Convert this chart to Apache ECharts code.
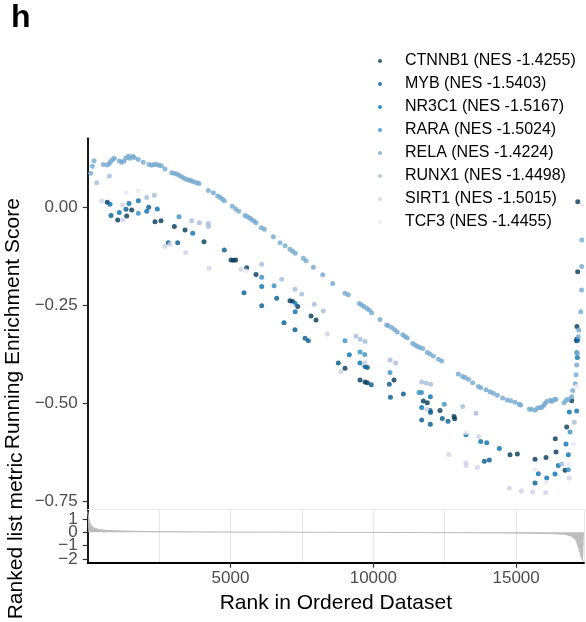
<!DOCTYPE html>
<html><head><meta charset="utf-8">
<script src="https://cdn.jsdelivr.net/npm/echarts@6/dist/echarts.min.js"></script>
<style>html,body{margin:0;padding:0;background:#fff}#c{width:586px;height:622px}</style>
</head><body><div id="c"></div>
<script>
// ---------- data ----------
const geneSets = ['CTNNB1','MYB','NR3C1','RARA','RELA','RUNX1','SIRT1','TCF3'];
const nesValues = [-1.4255,-1.5403,-1.5167,-1.5024,-1.4224,-1.4498,-1.5015,-1.4455];
const setColors = ['#023858','#045a8d','#0570b0','#3690c0','#74a9cf','#a6bddb','#d0d1e6','#ece7f2'];
const nGenes = 17377;

// [rank, running enrichment score] at hit positions
const CTNNB1 = [[686,0.013],[1050,-0.032],[1365,-0.022],[1540,-0.007],[2357,-0.037],[2566,-0.034],[3032,-0.049],[3407,-0.058],[4072,-0.088],[5018,-0.134],[5100,-0.135],[5182,-0.134],[5566,-0.154],[5893,-0.171],[7083,-0.238],[7177,-0.240],[7353,-0.253],[7820,-0.277],[7995,-0.287],[9009,-0.410],[9534,-0.440],[9709,-0.445],[9790,-0.447],[10725,-0.440],[11750,-0.494],[11890,-0.498],[12335,-0.518],[12826,-0.533],[12849,-0.539],[14786,-0.631],[15043,-0.629],[15662,-0.642],[16047,-0.638],[16372,-0.590],[16397,-0.624],[16712,-0.670],[16771,-0.560],[16946,-0.493],[17120,-0.340],[17125,-0.336],[17130,-0.304],[17155,-0.164],[17160,0.014]];
const MYB = [[816,-0.021],[1341,-0.005],[2136,0.000],[2822,-0.090],[3151,-0.090],[4784,-0.109],[5473,-0.218],[6092,-0.251],[6617,-0.232],[6873,-0.294],[7258,-0.312],[7610,-0.334],[7725,-0.340],[8775,-0.397],[9709,-0.406],[9790,-0.408],[9930,-0.452],[10560,-0.451],[10600,-0.484],[11052,-0.476],[11694,-0.542],[11990,-0.518],[12005,-0.523],[11997,-0.553],[12416,-0.538],[12616,-0.545],[13888,-0.647],[14062,-0.644],[15662,-0.703]];
const NR3C1 = [[781,0.008],[1106,-0.013],[1446,0.010],[1772,0.017],[2066,-0.010],[2437,-0.004],[3676,-0.066],[6092,-0.202],[7259,-0.245],[7265,-0.266],[9160,-0.376],[9534,-0.397],[11694,-0.510],[11997,-0.483],[13245,-0.580],[13760,-0.597],[13970,-0.600],[14412,-0.615],[15778,-0.679],[16071,-0.690],[16362,-0.680],[16478,-0.658],[16747,-0.603],[16828,-0.631],[16864,-0.522],[17120,-0.519],[17144,-0.383],[17155,-0.338]];
const RARA = [[1772,-0.015],[3197,-0.024],[6092,-0.178],[6523,-0.200],[9009,-0.340],[9534,-0.369],[9699,-0.375],[10585,-0.421],[11600,-0.472],[11690,-0.472],[12486,-0.502],[16828,-0.669],[16887,-0.573],[17120,-0.370]];
const RELA = [[104,0.087],[162,0.105],[221,0.119],[547,0.109],[687,0.108],[757,0.112],[804,0.117],[874,0.122],[932,0.125],[1107,0.118],[1189,0.115],[1270,0.118],[1340,0.126],[1422,0.130],[1480,0.125],[1574,0.130],[1632,0.127],[1772,0.122],[1947,0.115],[2146,0.109],[2239,0.107],[2321,0.109],[2414,0.109],[2496,0.107],[2578,0.106],[2706,0.098],[2940,0.088],[3021,0.087],[3115,0.085],[3197,0.082],[3290,0.078],[3372,0.074],[3465,0.071],[3547,0.070],[3629,0.068],[3699,0.065],[3816,0.063],[3897,0.061],[4224,0.043],[4399,0.037],[4551,0.029],[4633,0.026],[4714,0.021],[4784,0.017],[5064,0.003],[5181,-0.004],[5286,-0.010],[5508,-0.021],[5590,-0.024],[5671,-0.027],[5741,-0.031],[5823,-0.035],[5893,-0.039],[6080,-0.052],[6185,-0.056],[6500,-0.075],[6734,-0.090],[6909,-0.098],[7084,-0.107],[7177,-0.112],[7270,-0.117],[7550,-0.130],[7644,-0.136],[7900,-0.153],[8228,-0.172],[8578,-0.194],[9009,-0.219],[9126,-0.223],[9511,-0.245],[9592,-0.249],[9674,-0.253],[9767,-0.257],[9860,-0.262],[9942,-0.269],[10234,-0.286],[10468,-0.300],[10525,-0.302],[10643,-0.306],[10750,-0.312],[10840,-0.318],[11030,-0.325],[11110,-0.329],[11190,-0.333],[11380,-0.347],[11460,-0.351],[11540,-0.354],[11630,-0.357],[11730,-0.360],[11890,-0.370],[11980,-0.374],[12100,-0.379],[12280,-0.387],[12395,-0.392],[12977,-0.425],[13130,-0.431],[13210,-0.434],[13330,-0.438],[13480,-0.447],[13680,-0.457],[13760,-0.460],[13946,-0.465],[14090,-0.470],[14200,-0.474],[14342,-0.479],[14530,-0.486],[14690,-0.491],[14810,-0.493],[14960,-0.497],[15110,-0.502],[15160,-0.504],[15463,-0.515],[15540,-0.515],[15660,-0.517],[15743,-0.512],[15820,-0.510],[15900,-0.510],[15960,-0.505],[16010,-0.500],[16071,-0.495],[16190,-0.492],[16250,-0.495],[16340,-0.490],[16397,-0.489],[16677,-0.498],[16750,-0.492],[16828,-0.489],[16946,-0.483],[16982,-0.467],[17073,-0.450],[17097,-0.427],[17121,-0.402],[17144,-0.372],[17178,-0.330],[17191,-0.313],[17262,-0.266],[17290,-0.211],[17294,-0.151],[17298,-0.083]];
const RUNX1 = [[315,0.063],[757,0.080],[2066,0.025],[2332,0.031],[3641,-0.034],[3908,-0.039],[4223,-0.041],[4230,-0.049],[6092,-0.145],[6792,-0.183],[7259,-0.209],[7493,-0.221],[7935,-0.247],[8250,-0.264],[9394,-0.328],[9545,-0.336],[9709,-0.342],[10585,-0.389],[10784,-0.397],[11693,-0.445],[11850,-0.448],[12010,-0.451],[13130,-0.508],[13596,-0.525],[16596,-0.654],[17038,-0.548]];
const SIRT1 = [[490,0.016],[1225,0.006],[1230,-0.032],[2707,-0.099],[2882,-0.094],[3431,-0.115],[4247,-0.155],[5368,-0.158],[8390,-0.323],[8858,-0.419],[9709,-0.396],[11869,-0.515],[12640,-0.630],[13240,-0.652],[13250,-0.658],[13643,-0.663],[13690,-0.584],[14762,-0.716],[15183,-0.723],[15580,-0.725],[16036,-0.727],[16852,-0.690]];
const TCF3 = [[1341,0.037],[1772,0.042],[5543,-0.162],[7153,-0.251],[13245,-0.574],[15662,-0.668],[16047,-0.701],[16828,-0.655],[17003,-0.604],[17120,-0.457],[17296,0.006]];
const setPoints = [CTNNB1, MYB, NR3C1, RARA, RELA, RUNX1, SIRT1, TCF3];

// ranked list metric
const metricRank  = [1,20,50,100,150,250,400,700,1000,1500,2500,4000,6000,8500,11000,13000,14500,15500,16200,16700,16950,17100,17213,17260,17300,17340,17377];
const metricValue = [1.55,1.3,0.9,0.6,0.45,0.3,0.2,0.14,0.11,0.08,0.05,0.03,0.015,0,-0.015,-0.03,-0.05,-0.07,-0.1,-0.15,-0.3,-0.62,-1.3,-1.7,-2.0,-2.15,-2.22];

// tick labels
const scoreTicks = [-0.75,-0.5,-0.25,0];
const metricTicks = [-2,-1,0,1];
const metricLabelsA = [-1,1];   // drawn by one axis
const metricLabelsB = [-2,0];   // drawn by a second, label-only axis (avoids auto-hiding)
const rankTicks = [5000,10000,15000];

// ---------- chart ----------
const FONT = "'Liberation Sans', Arial, Helvetica, sans-serif";
const minus = s => String(s).replace('-', '\u2212');
const legendNames = geneSets.map((g,i) => g + ' (NES ' + nesValues[i].toFixed(4) + ')');

const scatterSeries = setPoints.map((pts,i) => ({
  name: legendNames[i], type: 'scatter', xAxisIndex: 0, yAxisIndex: 0,
  data: pts, symbol: 'circle', symbolSize: 5,
  itemStyle: {color: setColors[i]}, silent: true
}));

const metricData = metricRank.map((r,i) => [r, metricValue[i]]);

const axisLine = {show: true, onZero: false, lineStyle: {color: '#000', width: 1.8}};
const metricLabel = vals => ({customValues: vals, fontSize: 17, color: '#4d4d4d', margin: 10, fontFamily: FONT,
  showMinLabel: true, showMaxLabel: true, hideOverlap: false, formatter: v => minus(Math.round(v))});

const chart = echarts.init(document.getElementById('c'), null, {renderer: 'canvas'});
chart.setOption({
  animation: false,
  backgroundColor: '#fff',
  textStyle: {fontFamily: FONT},
  title: {text: 'h', left: 11, top: 2, padding: 0,
    textStyle: {fontSize: 32, fontWeight: 'bold', color: '#000', fontFamily: FONT}},
  legend: {
    data: legendNames, orient: 'vertical', left: 378, top: 53, padding: 0,
    itemWidth: 40, itemHeight: 4, itemGap: 7, icon: 'circle', selectedMode: false,
    textStyle: {fontSize: 16, color: '#000', lineHeight: 16, fontFamily: FONT}
  },
  grid: [
    {left: 87.7, top: 138.3, width: 496.3, height: 370.7, containLabel: false, outerBoundsMode: 'none'},
    {left: 87.7, top: 509, width: 496.3, height: 53.7, containLabel: false, outerBoundsMode: 'none'}
  ],
  xAxis: [
    {type: 'value', gridIndex: 0, min: 0, max: nGenes, show: false, splitLine: {show: false}},
    {type: 'value', gridIndex: 1, min: 0, max: nGenes, position: 'bottom',
      axisLine: axisLine,
      axisTick: {show: true, customValues: rankTicks, length: 5, lineStyle: {color: '#333', width: 1.2}},
      axisLabel: {customValues: rankTicks, fontSize: 17, color: '#4d4d4d', margin: 7, fontFamily: FONT,
        showMinLabel: true, showMaxLabel: true, formatter: v => String(Math.round(v))},
      splitLine: {show: false},
      name: 'Rank in Ordered Dataset', nameLocation: 'middle', nameGap: 30,
      nameTextStyle: {fontSize: 21, color: '#000', fontFamily: FONT}},
    {type: 'value', gridIndex: 1, min: 0, max: nGenes, interval: 2500, position: 'top',
      axisLine: {show: true, onZero: false, lineStyle: {color: '#ebebeb', width: 1}},
      axisTick: {show: false}, axisLabel: {show: false},
      splitLine: {show: true, lineStyle: {color: '#e6e6e6', width: 1.2}}}
  ],
  yAxis: [
    {type: 'value', gridIndex: 0, min: -0.769, max: 0.176,
      axisLine: axisLine,
      axisTick: {show: true, customValues: scoreTicks, length: 5, lineStyle: {color: '#333', width: 1.2}},
      axisLabel: {customValues: scoreTicks, fontSize: 17, color: '#4d4d4d', margin: 10, fontFamily: FONT,
        showMinLabel: true, showMaxLabel: true,
        formatter: v => minus(Number(v).toFixed(2))},
      splitLine: {show: false},
      name: 'Running Enrichment Score', nameLocation: 'middle', nameGap: 61, nameRotate: 90,
      nameTextStyle: {fontSize: 21, color: '#000', fontFamily: FONT}},
    {type: 'value', gridIndex: 1, min: -2.27, max: 1.74, position: 'left',
      axisLine: axisLine,
      axisTick: {show: true, customValues: metricTicks, length: 5, lineStyle: {color: '#333', width: 1.2}},
      axisLabel: metricLabel(metricLabelsA),
      splitLine: {show: false},
      name: 'Ranked list metric', nameLocation: 'middle', nameGap: 61, nameRotate: 90,
      nameTextStyle: {fontSize: 21, color: '#000', fontFamily: FONT}},
    {type: 'value', gridIndex: 1, min: -2.27, max: 1.74, position: 'left', offset: 0,
      axisLine: {show: false}, axisTick: {show: false},
      axisLabel: metricLabel(metricLabelsB),
      splitLine: {show: false}}
  ],
  series: [
    {type: 'line', xAxisIndex: 1, yAxisIndex: 1, data: metricData, showSymbol: false, symbol: 'none',
      silent: true, lineStyle: {color: '#bdbdbd', width: 1}, areaStyle: {color: '#bdbdbd', opacity: 1}}
  ].concat(scatterSeries)
});
</script>
</body></html>
